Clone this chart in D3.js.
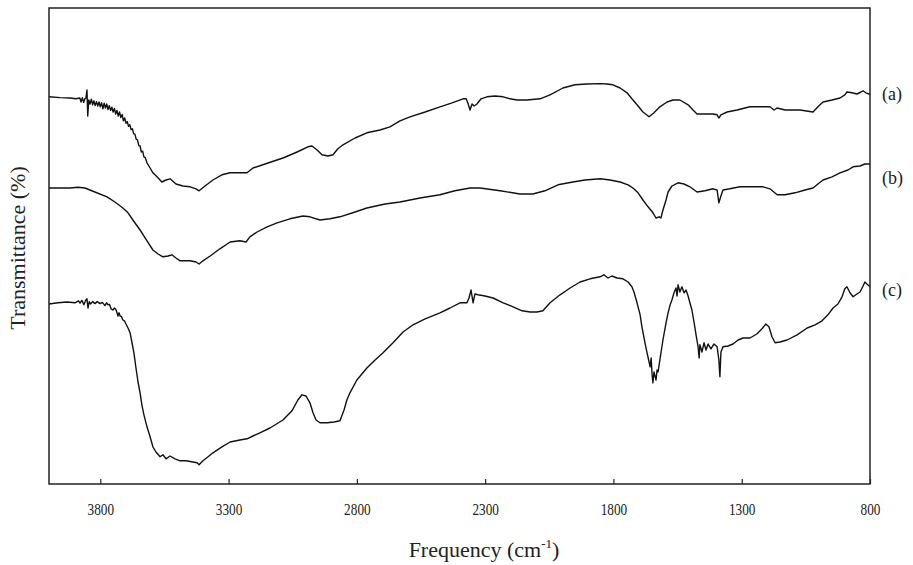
<!DOCTYPE html>
<html>
<head>
<meta charset="utf-8">
<script src="https://cdn.jsdelivr.net/npm/d3@7"></script>
<style>
  body { margin: 0; background: #fff; }
  svg { display: block; font-family: "Liberation Serif", "DejaVu Serif", serif; }
  .trace { fill: none; stroke: #111; stroke-width: 1.4; stroke-linejoin: round; }
</style>
</head>
<body>
<div id="graph"></div>
<script>
// FTIR spectra: [wavenumber cm-1, transmittance (offset, arbitrary units)]
const traceA = [
  [4000, 96.8], [3957, 96.6], [3918, 96.5], [3895, 96.3], [3880, 96.5], [3875, 95.5], [3870, 96.6],
  [3865, 95.4], [3860, 96.3], [3856, 96.5], [3852, 98.5], [3849, 92], [3845, 96], [3840, 95],
  [3835, 96.2], [3830, 94.8], [3825, 95.8], [3820, 94.6], [3815, 95.6], [3810, 94.5], [3805, 95.5],
  [3800, 94.3], [3795, 95.3], [3790, 93.8], [3785, 95.2], [3780, 94], [3775, 95], [3770, 93.6],
  [3765, 94.6], [3760, 93.4], [3755, 94.2], [3750, 93], [3745, 93.9], [3740, 92.5], [3735, 93.4],
  [3730, 92], [3725, 93], [3720, 91.6], [3715, 92.4], [3710, 90.8], [3705, 91.5], [3700, 90.2],
  [3695, 90.6], [3690, 89.4], [3685, 89.8], [3680, 88.6], [3675, 88.8], [3670, 87.6], [3665, 87.4],
  [3660, 86.2], [3655, 86], [3650, 84.6], [3645, 84.5], [3640, 83], [3635, 83.2], [3630, 81.8],
  [3625, 81.6], [3618, 80.3], [3606, 79], [3595, 77.8], [3579, 76.8], [3560, 75.5], [3544, 76],
  [3528, 76.3], [3505, 75], [3478, 74.5], [3450, 74.3], [3427, 73.8], [3415, 73.3], [3392, 74.5],
  [3361, 76], [3326, 77.3], [3294, 77.8], [3256, 77.8], [3228, 77.8], [3205, 79], [3158, 80],
  [3088, 81.5], [3033, 83], [2991, 84.3], [2975, 84.5], [2955, 83.5], [2936, 82.3], [2913, 82],
  [2893, 82.3], [2874, 83.8], [2854, 84.8], [2807, 86.5], [2761, 87.8], [2710, 88.5], [2671, 89.3],
  [2632, 90.8], [2593, 91.8], [2534, 93], [2476, 94.3], [2429, 95.3], [2386, 96.3], [2374, 96.3],
  [2366, 95], [2359, 93.5], [2351, 95], [2343, 94.5], [2332, 95], [2316, 96.3], [2293, 96.8],
  [2262, 97], [2230, 96.8], [2203, 96.3], [2176, 96], [2137, 96], [2086, 96.3], [2047, 97.3],
  [1997, 99], [1950, 99.8], [1903, 100], [1852, 100.1], [1825, 100], [1802, 99.8], [1774, 99],
  [1747, 97.8], [1728, 96.3], [1708, 94.8], [1685, 93], [1661, 91.8], [1642, 92.8], [1619, 94.3],
  [1591, 95.5], [1568, 96], [1541, 96], [1509, 94.8], [1490, 93.5], [1474, 92.5], [1443, 92.5],
  [1412, 92.5], [1396, 92.3], [1389, 91.5], [1381, 92.3], [1357, 93], [1318, 93.5], [1268, 94.3],
  [1229, 94.3], [1190, 94.3], [1174, 93.5], [1162, 94], [1131, 93.5], [1073, 93.5], [1022, 93],
  [1003, 94.3], [983, 95.5], [948, 96], [917, 96.5], [898, 97.3], [890, 98], [870, 97.8],
  [851, 97.5], [835, 98], [827, 98.3], [816, 97.8], [804, 97.5], [800, 97.5]
];

const traceB = [
  [4000, 74], [3957, 74], [3918, 74], [3887, 74.2], [3860, 74], [3821, 73], [3774, 71.8],
  [3743, 70.5], [3712, 69], [3692, 67.8], [3673, 66], [3645, 63.5], [3618, 60.8], [3595, 58.5],
  [3575, 57.5], [3556, 56.8], [3536, 57], [3521, 57.3], [3505, 56.5], [3489, 55.8], [3450, 55.8],
  [3427, 55.5], [3415, 55], [3400, 55.8], [3372, 57], [3334, 58.8], [3294, 60.5], [3256, 60.8],
  [3232, 60.5], [3217, 61.8], [3189, 63], [3150, 64.3], [3111, 65.3], [3061, 66.3], [3010, 67],
  [2983, 66.8], [2944, 66], [2905, 66.3], [2866, 66.8], [2807, 68], [2761, 69], [2690, 70],
  [2632, 70.5], [2554, 71.5], [2476, 72.3], [2418, 73.3], [2359, 74], [2320, 74], [2242, 73.3],
  [2164, 72.5], [2114, 72.5], [2067, 73.3], [2016, 74.8], [1958, 75.5], [1911, 76], [1852, 76.3],
  [1813, 76], [1774, 75.5], [1743, 74.8], [1724, 74], [1704, 72.8], [1685, 71], [1665, 69.3],
  [1646, 67.8], [1634, 66.5], [1622, 66.8], [1615, 66.5], [1607, 68.5], [1595, 71], [1587, 73],
  [1572, 74.5], [1548, 75.3], [1525, 75], [1502, 74.3], [1474, 73], [1443, 73.3], [1412, 73.8],
  [1396, 73.5], [1389, 70.3], [1381, 72], [1373, 73.5], [1346, 73.8], [1307, 74.3], [1268, 74.3],
  [1217, 74.3], [1190, 73.8], [1162, 72.3], [1131, 72.3], [1092, 72.8], [1053, 73.5], [1022, 74],
  [1003, 75], [983, 76], [948, 76.8], [917, 77.8], [886, 78.5], [866, 79.3], [839, 79.5],
  [820, 80], [800, 80]
];

const traceC = [
  [4000, 45], [3965, 45.3], [3930, 45.5], [3899, 45.3], [3885, 45.8], [3879, 45.2], [3872, 45.9],
  [3864, 44.8], [3858, 45.8], [3852, 46.3], [3848, 44], [3843, 45.6], [3838, 45], [3830, 45.6],
  [3821, 45.1], [3812, 45.6], [3801, 45.1], [3792, 45.4], [3782, 44.6], [3776, 45.3], [3770, 44.8],
  [3764, 44.9], [3758, 43.8], [3751, 43.5], [3745, 44], [3739, 43.6], [3735, 42.8], [3731, 42],
  [3727, 42.8], [3723, 42], [3718, 41.9], [3712, 41], [3706, 40.8], [3700, 40], [3692, 39],
  [3684, 37.8], [3677, 35.5], [3669, 32.8], [3661, 29], [3653, 25.5], [3645, 22.8], [3638, 19.8],
  [3630, 17.3], [3618, 14.3], [3606, 11.8], [3595, 9.3], [3583, 8], [3567, 6.8], [3556, 7.3],
  [3544, 6.3], [3528, 7], [3509, 6.3], [3489, 5.8], [3466, 5.8], [3439, 5.5], [3423, 5.3],
  [3415, 4.8], [3400, 5.8], [3380, 6.8], [3361, 7.8], [3326, 9.3], [3294, 10.5], [3256, 11],
  [3228, 11.3], [3205, 12], [3178, 12.8], [3139, 14], [3088, 16], [3053, 18.3], [3030, 21],
  [3014, 22.3], [2998, 22], [2983, 20.3], [2971, 17.8], [2959, 16], [2944, 15.3], [2916, 15.3],
  [2889, 15.5], [2866, 15.8], [2850, 18.5], [2839, 21], [2827, 22.8], [2800, 26], [2761, 29],
  [2729, 31], [2698, 32.8], [2659, 35.3], [2620, 38], [2581, 39.8], [2534, 41.3], [2476, 42.8],
  [2437, 44], [2398, 45.3], [2371, 45.3], [2363, 46.5], [2355, 48.5], [2347, 45.3], [2340, 47.5],
  [2328, 47.3], [2301, 47], [2269, 46.5], [2230, 45.3], [2191, 44.3], [2156, 43.3], [2125, 43],
  [2098, 43], [2075, 43.3], [2047, 45.3], [2008, 47.3], [1969, 49], [1930, 50.5], [1891, 51.3],
  [1852, 51.8], [1837, 52.3], [1821, 51.5], [1806, 52], [1786, 51.5], [1763, 51.3], [1743, 50.5],
  [1728, 49.3], [1720, 48], [1708, 45.3], [1696, 42.3], [1689, 39.3], [1677, 35.3], [1669, 32.8],
  [1661, 30.5], [1657, 29.3], [1653, 31.5], [1649, 27], [1646, 25.3], [1642, 28], [1634, 26],
  [1630, 28.5], [1626, 28], [1619, 31], [1607, 36], [1595, 40.3], [1587, 42.8], [1579, 44.8],
  [1572, 46], [1564, 47.8], [1556, 49], [1552, 47], [1548, 49.8], [1541, 48], [1533, 49.3],
  [1525, 47.8], [1517, 48.5], [1509, 47], [1502, 45.3], [1494, 43.5], [1486, 40.5], [1478, 37.3],
  [1470, 34.3], [1466, 31.5], [1463, 34.8], [1455, 33], [1447, 35.3], [1439, 33.5], [1431, 35],
  [1420, 33.8], [1408, 35], [1396, 34.3], [1389, 31], [1385, 26.8], [1381, 33], [1373, 34.3],
  [1353, 34.5], [1334, 35], [1314, 36], [1295, 36.5], [1268, 36.5], [1241, 37.5], [1221, 38.8],
  [1206, 40], [1194, 39.3], [1182, 36.8], [1170, 35.3], [1151, 35.5], [1123, 36], [1084, 37.3],
  [1045, 39], [1014, 39.8], [987, 40.8], [964, 42.3], [944, 44], [925, 45], [909, 46.8],
  [898, 48.8], [890, 49.3], [878, 47.8], [866, 46.8], [851, 47.5], [839, 48], [827, 49.5],
  [820, 50.5], [812, 50], [800, 49.3]
];

const traceLabels = ["(a)", "(b)", "(c)"];
const xTicks = [3800, 3300, 2800, 2300, 1800, 1300, 800];

let chart = {
  width: 913,
  height: 565,
  left: 49,
  right: 870,
  top: 8,
  bottom: 484
};

let svg = d3.select("#graph").append("svg")
  .attr("width", chart.width)
  .attr("height", chart.height);

let xScale = d3.scaleLinear().domain([4000, 800]).range([chart.left, chart.right]);
let yScale = d3.scaleLinear().domain([0, 119]).range([chart.bottom, chart.top]);

let line = d3.line()
  .x(d => xScale(d[0]))
  .y(d => yScale(d[1]));

// spectra
let traces = [traceA, traceB, traceC];
svg.selectAll("path.trace").data(traces).enter()
  .append("path")
  .attr("class", "trace")
  .attr("d", line);

// box frame
svg.append("rect")
  .attr("x", chart.left)
  .attr("y", chart.top)
  .attr("width", chart.right - chart.left)
  .attr("height", chart.bottom - chart.top)
  .attr("fill", "none")
  .attr("stroke", "#222")
  .attr("stroke-width", 1.5);

// bottom axis, ticks pointing inward
let xAxis = d3.axisBottom(xScale)
  .tickValues(xTicks)
  .tickSizeInner(-5)
  .tickSizeOuter(0)
  .tickPadding(19)
  .tickFormat(d3.format("d"));

let gx = svg.append("g")
  .attr("transform", `translate(0, ${chart.bottom})`)
  .call(xAxis);
gx.select(".domain").remove();
gx.selectAll(".tick line").attr("stroke", "#222").attr("stroke-width", 1.2);
gx.selectAll(".tick text")
  .attr("font-family", "Liberation Serif, serif")
  .attr("font-size", 17)
  .attr("fill", "#222")
  .attr("transform", "scale(0.78,1)");

// trace labels at right end (label (b) sits a little below its trace end)
let labelShift = [6, 20, 9];
svg.selectAll("text.lbl").data(traces).enter()
  .append("text")
  .attr("class", "lbl")
  .attr("x", 882)
  .attr("y", (d, i) => yScale(d[d.length - 1][1]) + labelShift[i])
  .attr("font-size", 18)
  .attr("fill", "#222")
  .text((d, i) => traceLabels[i]);

// axis titles
let xTitle = svg.append("text")
  .attr("x", 484)
  .attr("y", 557)
  .attr("text-anchor", "middle")
  .attr("font-size", 22)
  .attr("fill", "#222");
xTitle.append("tspan").text("Frequency (cm");
xTitle.append("tspan").attr("font-size", 13).attr("dy", -9).text("-1");
xTitle.append("tspan").attr("dy", 9).text(")");

svg.append("text")
  .attr("transform", "translate(25, 248) rotate(-90)")
  .attr("text-anchor", "middle")
  .attr("font-size", 22)
  .attr("fill", "#222")
  .text("Transmittance (%)");
</script>
</body>
</html>
